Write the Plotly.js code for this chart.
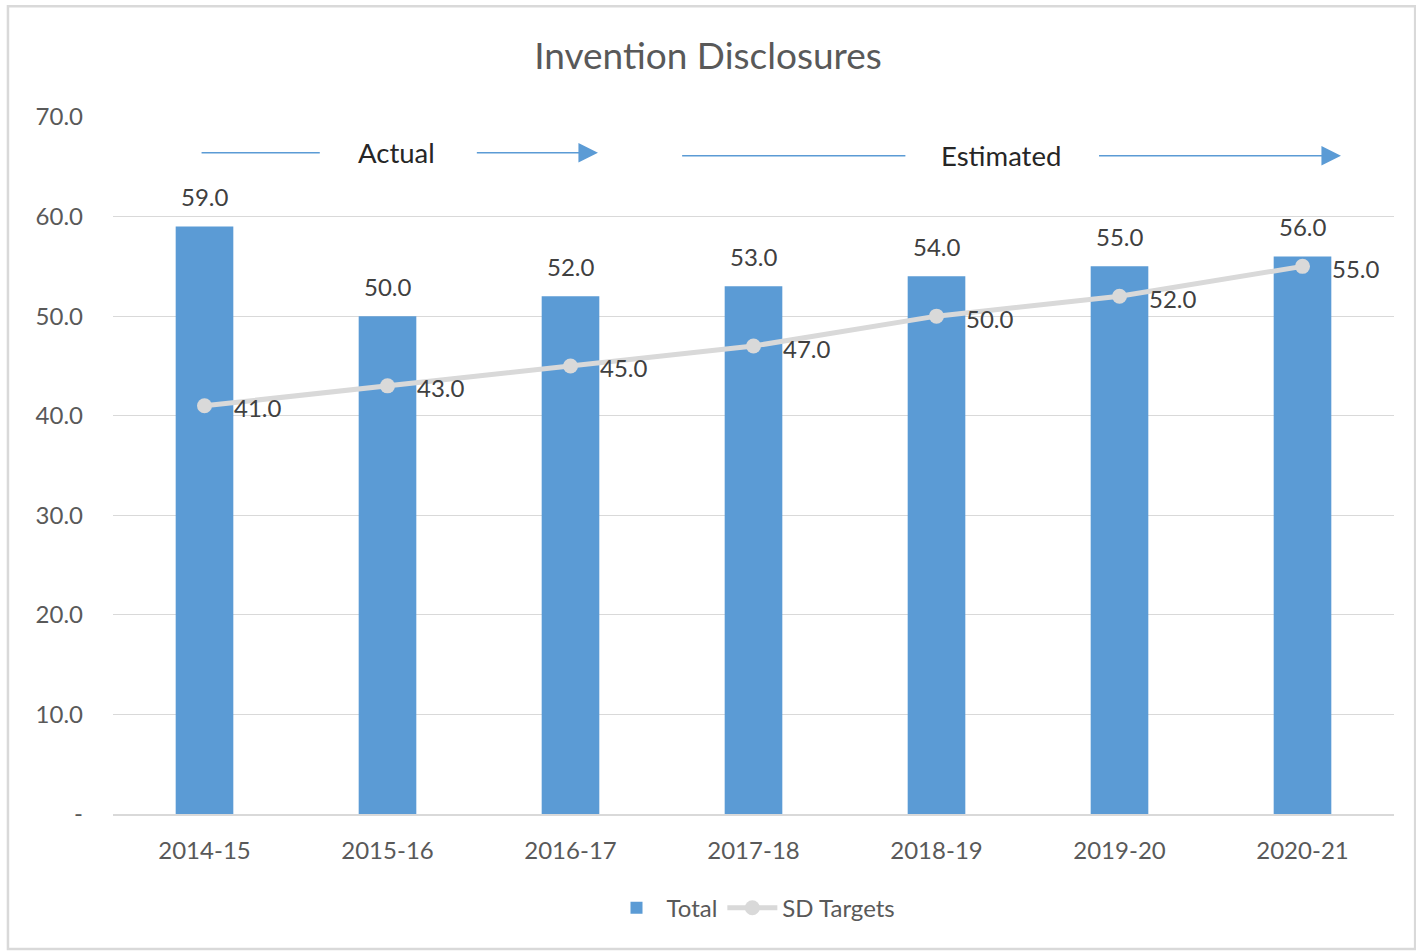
<!DOCTYPE html>
<html><head><meta charset="utf-8">
<script src="https://cdn.plot.ly/plotly-3.0.1.min.js"></script>
<style>html,body{margin:0;padding:0;background:#fff;}#chart{width:1416px;height:951px;}</style>
</head><body><div id="chart"></div>
<script>
const categories = ["2014-15","2015-16","2016-17","2017-18","2018-19","2019-20","2020-21"];
const totalValues = [59.0, 50.0, 52.0, 53.0, 54.0, 55.0, 56.0];
const sdTargets = [41.0, 43.0, 45.0, 47.0, 50.0, 52.0, 55.0];
const yTickVals = [0, 10, 20, 30, 40, 50, 60, 70];
const yTickText = ["-", "10.0", "20.0", "30.0", "40.0", "50.0", "60.0", "70.0"];

const FONT = "Lato, 'Open Sans', sans-serif";
const barColor = "#5b9bd5";
const lineColor = "#d9d9d9";
const LBL = 24;

const traces = [
  {type:"bar", name:"Total", x:categories, y:totalValues, marker:{color:barColor}, width:0.315, hoverinfo:"x+y"},
  {type:"scatter", mode:"lines+markers", name:"SD Targets", x:categories, y:sdTargets,
   line:{color:lineColor, width:5}, marker:{color:lineColor, size:15}, cliponaxis:false}
];

const annotations = categories.map((c,i)=>({
  x:c, y:totalValues[i], xref:"x", yref:"y", text:totalValues[i].toFixed(1), showarrow:false,
  yshift:30, font:{family:FONT, size:LBL, color:"#404040"}
}));
categories.forEach((c,i)=>annotations.push({
  x:c, y:sdTargets[i], xref:"x", yref:"y", text:sdTargets[i].toFixed(1), showarrow:false,
  xanchor:"left", xshift:27, yshift:-2, font:{family:FONT, size:LBL, color:"#404040"}
}));

// period labels
annotations.push({x:1.05, y:66.4, xref:"x", yref:"y", text:"Actual", showarrow:false, font:{family:FONT, size:27.5, color:"#262626"}});
annotations.push({x:4.35, y:66.1, xref:"x", yref:"y", text:"Estimated", showarrow:false, font:{family:FONT, size:27.5, color:"#262626"}});
// arrows
annotations.push({x:2.15, y:66.4, ax:1.48, ay:66.4, xref:"x", yref:"y", axref:"x", ayref:"y", text:"", showarrow:true, arrowhead:2, arrowsize:2.6, arrowwidth:1.5, arrowcolor:barColor});
annotations.push({x:6.21, y:66.1, ax:4.88, ay:66.1, xref:"x", yref:"y", axref:"x", ayref:"y", text:"", showarrow:true, arrowhead:2, arrowsize:2.6, arrowwidth:1.5, arrowcolor:barColor});

const shapes = [
  {type:"line", xref:"x", yref:"y", x0:-0.016, x1:0.63, y0:66.4, y1:66.4, line:{color:barColor, width:1.5}},
  {type:"line", xref:"x", yref:"y", x0:2.61, x1:3.83, y0:66.1, y1:66.1, line:{color:barColor, width:1.5}},
  {type:"rect", xref:"paper", yref:"paper", x0:-0.082, x1:1.0165, y0:-0.1937, y1:1.159, line:{color:"#d9d9d9", width:2.5}, fillcolor:"rgba(0,0,0,0)", layer:"below"}
];

const layout = {
  width:1416, height:951,
  margin:{l:113, r:22, t:117, b:137},
  paper_bgcolor:"#fff", plot_bgcolor:"#fff",
  font:{family:FONT, color:"#595959"},
  title:{text:"Invention Disclosures", x:0.5, xanchor:"center", y:0.941, yanchor:"middle", font:{family:FONT, size:37, color:"#595959"}},
  xaxis:{type:"category", showgrid:false, showline:true, linecolor:"#d9d9d9", linewidth:1.5, ticks:"", tickfont:{family:FONT, size:LBL, color:"#595959"}, ticklabelstandoff:14},
  yaxis:{range:[0,70], tickvals:yTickVals, ticktext:yTickText, showgrid:true, gridcolor:"#d9d9d9", gridwidth:1, zeroline:false, showline:false, ticks:"", tickfont:{family:FONT, size:LBL, color:"#595959"}, ticklabelstandoff:29},
  legend:{orientation:"h", x:0.5, xanchor:"center", y:-0.135, yanchor:"middle", font:{family:FONT, size:LBL, color:"#595959"}, traceorder:"normal", itemwidth:50},
  annotations:annotations, shapes:shapes, showlegend:true
};

Plotly.newPlot("chart", traces, layout, {displayModeBar:false, responsive:false});
</script></body></html>
